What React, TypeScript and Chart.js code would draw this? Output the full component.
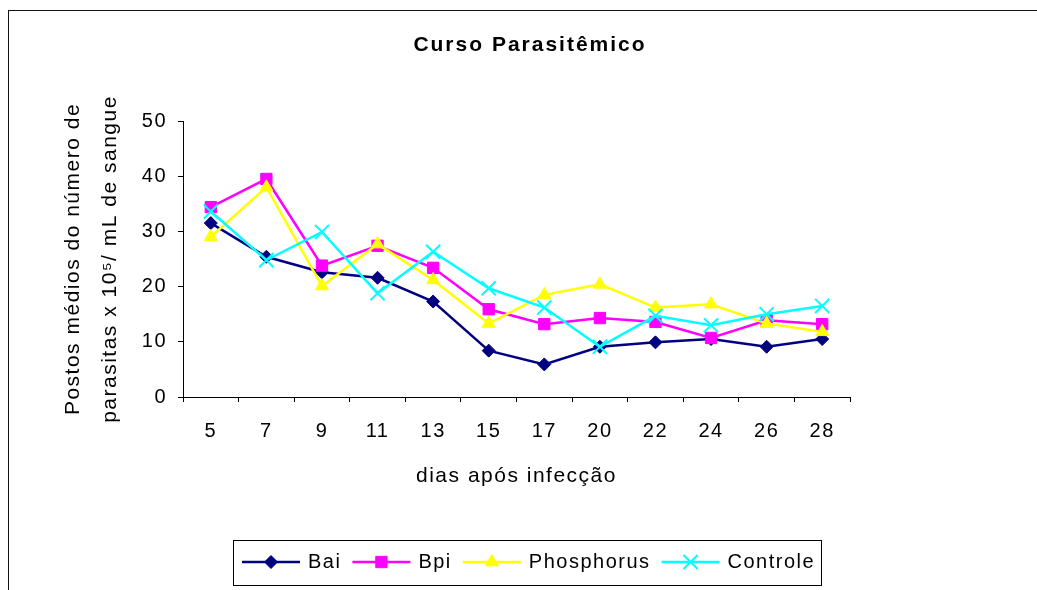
import React, { useEffect, useRef } from 'react';
import { Chart, registerables } from 'chart.js';
import { drawPoint } from 'chart.js/helpers';

Chart.register(...registerables);

const days = ['5', '7', '9', '11', '13', '15', '17', '20', '22', '24', '26', '28'];
const seriesNames = ['Bai', 'Bpi', 'Phosphorus', 'Controle'];
const bai = [31.5, 25.4, 22.6, 21.6, 17.3, 8.4, 5.9, 9.1, 9.9, 10.5, 9.1, 10.5];
const bpi = [34.4, 39.5, 23.8, 27.4, 23.4, 15.9, 13.2, 14.3, 13.6, 10.7, 13.9, 13.2];
const phosphorus = [29.0, 38.0, 20.1, 27.7, 21.2, 13.3, 18.5, 20.4, 16.2, 16.8, 13.3, 11.8];
const controle = [33.6, 24.8, 29.9, 18.8, 26.3, 19.7, 16.2, 9.1, 14.7, 13.0, 15.0, 16.5];
const yMin = 0;
const yMax = 50;
const yStep = 10;

const chartTitle = 'Curso Parasitêmico';
const xTitle = 'dias após infecção';
const yTitle = ['Postos médios do número de', 'parasitas x 10⁵/ mL de sangue'];

const FONT = '"Liberation Sans", Arial, Helvetica, sans-serif';

const framePlugin = {
  id: 'frameAndLegend',
  beforeDraw(chart: any) {
    const ctx = chart.ctx;
    ctx.letterSpacing = '1.5px';
    ctx.save();
    ctx.fillStyle = '#ffffff';
    ctx.fillRect(0, 0, chart.width, chart.height);
    ctx.strokeStyle = '#111';
    ctx.lineWidth = 1;
    ctx.strokeRect(8.5, 10.5, 1200, 800);
    ctx.letterSpacing = '2px';
    ctx.font = `bold 21px ${FONT}`;
    ctx.fillStyle = '#000';
    ctx.textAlign = 'center';
    ctx.textBaseline = 'alphabetic';
    ctx.fillText(chartTitle, 530, 51);
    ctx.restore();
  },
  afterDraw(chart: any) {
    const ctx = chart.ctx;
    ctx.save();
    ctx.letterSpacing = '1.5px';
    ctx.font = `20px ${FONT}`;
    const lineY = 562;
    let x = 242;
    let lastEnd = x;
    const items: any[] = [];
    chart.data.datasets.forEach((ds: any) => {
      const w = ctx.measureText(ds.label).width;
      items.push({ ds, x, w });
      lastEnd = x + 66 + w;
      x = lastEnd + 11;
    });
    const boxLeft = 233.5;
    const boxRight = Math.round(lastEnd + 6) + 0.5;
    ctx.strokeStyle = '#000';
    ctx.lineWidth = 1;
    ctx.strokeRect(boxLeft, 540.5, boxRight - boxLeft, 45);
    items.forEach(({ ds, x: ix }) => {
      ctx.strokeStyle = ds.borderColor;
      ctx.lineWidth = 2.5;
      ctx.beginPath();
      ctx.moveTo(ix, lineY);
      ctx.lineTo(ix + 58, lineY);
      ctx.stroke();
      ctx.fillStyle = ds.pointBackgroundColor;
      ctx.strokeStyle = ds.pointBorderColor;
      ctx.lineWidth = ds.pointBorderWidth;
      drawPoint(ctx, {
        pointStyle: ds.pointStyle,
        radius: ds.pointRadius,
        rotation: 0,
        borderWidth: ds.pointBorderWidth,
      } as any, ix + 29, lineY);
      ctx.fillStyle = '#000';
      ctx.textAlign = 'left';
      ctx.textBaseline = 'alphabetic';
      ctx.fillText(ds.label, ix + 66, 568);
    });
    ctx.restore();
  },
};

export default function App() {
  const ref = useRef<HTMLCanvasElement | null>(null);

  useEffect(() => {
    if (!ref.current) return;
    const mk = (label: string, data: number[], color: string, style: string, radius: number, bw: number, order: number) => ({
      label,
      data,
      borderColor: color,
      backgroundColor: color,
      pointBackgroundColor: color,
      pointBorderColor: color,
      pointStyle: style,
      pointRadius: radius,
      pointBorderWidth: bw,
      borderWidth: 2.5,
      tension: 0,
      order,
    });
    const chart = new Chart(ref.current, {
      type: 'line',
      data: {
        labels: days,
        datasets: [
          mk(seriesNames[0], bai, '#000080', 'rectRot', 6.5, 1, 4),
          mk(seriesNames[1], bpi, '#FF00FF', 'rect', 8, 1, 3),
          mk(seriesNames[2], phosphorus, '#FFFF00', 'triangle', 7.5, 1, 2),
          mk(seriesNames[3], controle, '#00FFFF', 'crossRot', 10, 2, 1),
        ] as any,
      },
      options: {
        responsive: false,
        animation: false,
        devicePixelRatio: 1,
        layout: { padding: { top: 121, right: 187, bottom: 93, left: 0 } },
        plugins: {
          legend: { display: false },
          title: { display: false },
          tooltip: { enabled: false },
        },
        scales: {
          x: {
            offset: true,
            ticks: { padding: 17, color: '#000', font: { family: FONT, size: 20 }, maxRotation: 0, autoSkip: false },
            grid: { offset: true, drawOnChartArea: false, drawTicks: true, tickLength: 5, color: '#000' },
            border: { display: true, color: '#000', width: 1 },
            title: {
              display: true,
              text: xTitle,
              color: '#000',
              font: { family: FONT, size: 21, lineHeight: 1.2 },
              padding: { top: 0, bottom: 8 },
            },
            afterFit: (s: any) => { s.height = 100; },
          },
          y: {
            min: yMin,
            max: yMax,
            ticks: { stepSize: yStep, padding: 11, color: '#000', font: { family: FONT, size: 20 } },
            grid: { drawOnChartArea: false, drawTicks: true, tickLength: 5, color: '#000' },
            border: { display: true, color: '#000', width: 1 },
            title: {
              display: true,
              text: yTitle,
              color: '#000',
              font: { family: FONT, size: 21, lineHeight: 1.76 },
              padding: { top: 55, bottom: 0 },
            },
            afterFit: (s: any) => { s.width = 183; },
          },
        },
      } as any,
      plugins: [framePlugin],
    });
    return () => chart.destroy();
  }, []);

  return (
    <div style={{ position: 'absolute', left: 0, top: 0, width: 1037, height: 590 }}>
      <canvas ref={ref} width={1037} height={590} style={{ width: 1037, height: 590, display: 'block' }} />
    </div>
  );
}
